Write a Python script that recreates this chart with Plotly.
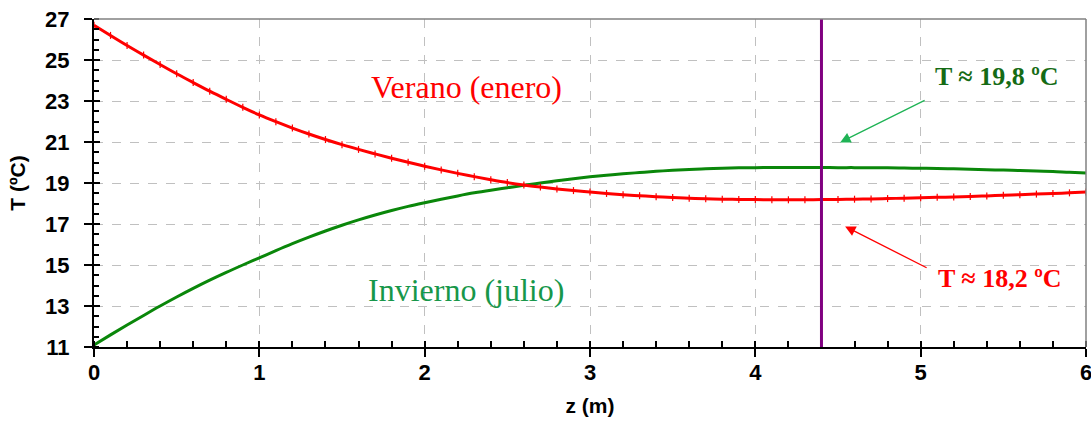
import plotly.graph_objects as go

z = [round(i * 0.1, 1) for i in range(61)]

t_verano = [26.70, 26.20, 25.71, 25.24, 24.78, 24.33, 23.90, 23.48, 23.08, 22.69,
            22.32, 21.99, 21.68, 21.39, 21.12, 20.87, 20.64, 20.42, 20.21, 20.01,
            19.82, 19.64, 19.47, 19.31, 19.16, 19.02, 18.90, 18.80, 18.71, 18.63,
            18.56, 18.49, 18.43, 18.38, 18.33, 18.29, 18.26, 18.23, 18.21, 18.20,
            18.19, 18.18, 18.18, 18.18, 18.19, 18.20, 18.21, 18.22, 18.24, 18.26,
            18.28, 18.30, 18.32, 18.34, 18.37, 18.40, 18.43, 18.46, 18.49, 18.52,
            18.56]

t_invierno = [11.10, 11.59, 12.07, 12.54, 13.00, 13.44, 13.86, 14.26, 14.64, 15.00,
              15.35, 15.70, 16.04, 16.36, 16.66, 16.94, 17.20, 17.44, 17.66, 17.86,
              18.04, 18.21, 18.37, 18.52, 18.65, 18.77, 18.89, 19.00, 19.11, 19.21,
              19.30, 19.38, 19.45, 19.51, 19.57, 19.62, 19.66, 19.69, 19.72, 19.74,
              19.75, 19.76, 19.76, 19.76, 19.76, 19.75, 19.75, 19.74, 19.74, 19.73,
              19.72, 19.71, 19.69, 19.67, 19.65, 19.63, 19.61, 19.58, 19.56, 19.52,
              19.49]

z_marca = 4.4
x_ticks = [0, 1, 2, 3, 4, 5, 6]
y_ticks = [11, 13, 15, 17, 19, 21, 23, 25, 27]

RED = "#ff0000"
GREEN = "#0a870a"
SERIF = "Liberation Serif, Times New Roman, serif"
SANS = "Liberation Sans, Arial, sans-serif"

fig = go.Figure()

fig.add_trace(go.Scatter(x=z, y=t_invierno, mode="lines", line_shape="spline",
                         line=dict(color=GREEN, width=3), showlegend=False))
fig.add_trace(go.Scatter(x=z, y=t_verano, mode="lines+markers", line_shape="spline",
                         line=dict(color=RED, width=3),
                         marker=dict(symbol="line-ns", size=5,
                                     line=dict(color=RED, width=1.2)),
                         showlegend=False))
# overlay axes for crossing major ticks
fig.add_trace(go.Scatter(x=[0], y=[11], xaxis="x2", yaxis="y2", mode="markers",
                         marker=dict(opacity=0), showlegend=False, hoverinfo="skip"))

fig.add_vline(x=z_marca, line=dict(color="#800080", width=3))

# top/right border
fig.add_shape(type="line", xref="paper", yref="paper", x0=0, x1=1, y0=1, y1=1,
              line=dict(color="#808080", width=1.5))
fig.add_shape(type="line", xref="paper", yref="paper", x0=1, x1=1, y0=0, y1=1,
              line=dict(color="#808080", width=1.5))

fig.add_annotation(x=2.256, y=23.7, text="Verano (enero)", showarrow=False,
                   font=dict(family=SERIF, size=32, color=RED))
fig.add_annotation(x=2.25, y=13.8, text="Invierno (julio)", showarrow=False,
                   font=dict(family=SERIF, size=32, color="#17974a"))

fig.add_annotation(x=5.46, y=24.2, text="<b>T ≈ 19,8 ºC</b>", showarrow=False,
                   font=dict(family=SERIF, size=26, color="#156b15"))
fig.add_annotation(x=5.48, y=14.34, text="<b>T ≈ 18,2 ºC</b>", showarrow=False,
                   font=dict(family=SERIF, size=26, color=RED))

fig.add_annotation(x=4.513, y=20.98, ax=5.033, ay=23.07, axref="x", ayref="y",
                   xref="x", yref="y", text="", showarrow=True,
                   arrowhead=2, arrowsize=1.6, arrowwidth=1.3, arrowcolor="#1fb355")
fig.add_annotation(x=4.543, y=16.88, ax=5.045, ay=14.83, axref="x", ayref="y",
                   xref="x", yref="y", text="", showarrow=True,
                   arrowhead=2, arrowsize=1.6, arrowwidth=1.3, arrowcolor=RED)

grid = dict(showgrid=True, gridcolor="#c0c0c0", griddash="dash", gridwidth=1)
tickfont = dict(family=SANS, size=22, color="black", weight="bold")
titlefont = dict(family=SANS, size=21, color="black", weight="bold")

fig.update_layout(
    width=1091, height=429,
    margin=dict(l=94, r=5, t=19, b=82),
    paper_bgcolor="white", plot_bgcolor="white",
    font=dict(family=SANS, color="black"),
    xaxis=dict(range=[0, 6], tickvals=x_ticks, automargin=False,
               ticks="outside", ticklen=8, tickwidth=2, tickcolor="black",
               showline=True, linecolor="black", linewidth=2,
               tickfont=tickfont, ticklabelstandoff=-3, ticklabeloverflow="allow",
               minor=dict(dtick=0.2, ticks="inside", ticklen=6, tickwidth=1.5,
                          tickcolor="black", showgrid=False),
               title=dict(text="z (m)", font=titlefont, standoff=14),
               zeroline=False, **grid),
    yaxis=dict(range=[11, 27], tickvals=y_ticks, automargin=False,
               ticks="outside", ticklen=8, tickwidth=2, tickcolor="black",
               showline=True, linecolor="black", linewidth=2,
               tickfont=tickfont, ticklabelstandoff=10, ticklabeloverflow="allow",
               minor=dict(dtick=0.5, ticks="inside", ticklen=5, tickwidth=1.5,
                          tickcolor="black", showgrid=False),
               title=dict(text="T (ºC)", font=titlefont, standoff=14),
               zeroline=False, **grid),
    xaxis2=dict(range=[0, 6], overlaying="x", anchor="y2", side="bottom",
                tickvals=x_ticks, ticks="inside", ticklen=6, tickwidth=2,
                tickcolor="black", showticklabels=False, showgrid=False,
                showline=False, zeroline=False, automargin=False),
    yaxis2=dict(range=[11, 27], overlaying="y", anchor="x2", side="left",
                tickvals=y_ticks, ticks="inside", ticklen=6, tickwidth=2,
                tickcolor="black", showticklabels=False, showgrid=False,
                showline=False, zeroline=False, automargin=False),
)

fig.write_html("out.html")
